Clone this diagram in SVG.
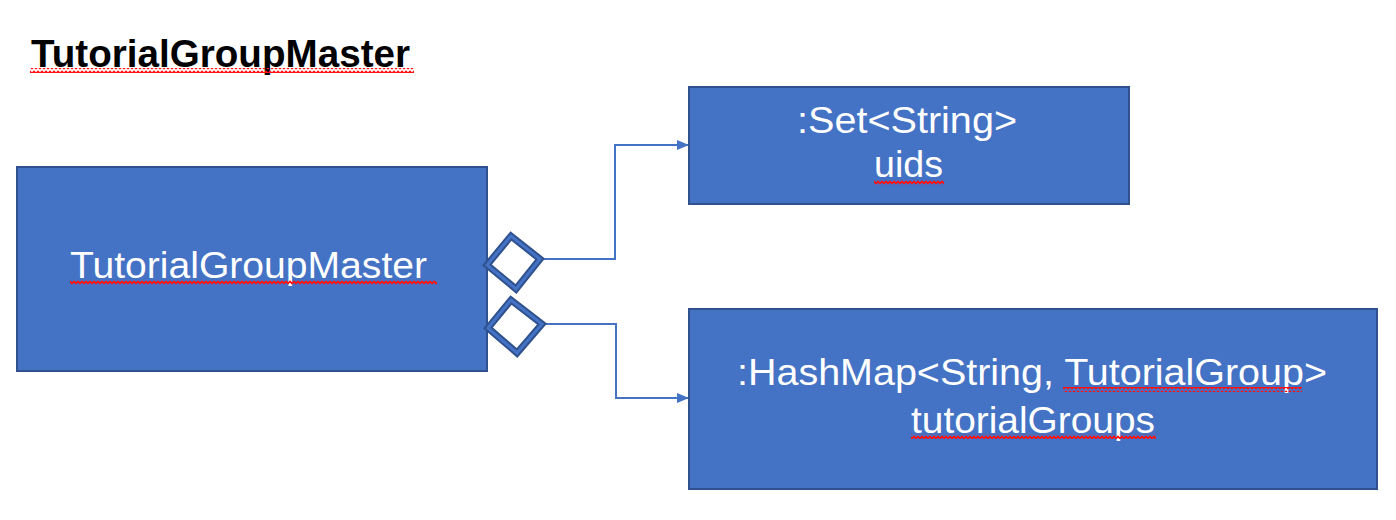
<svg xmlns="http://www.w3.org/2000/svg" width="1396" height="520" viewBox="0 0 1396 520">
  <defs>
    <style>
      .box { fill: #4472C4; stroke: #2F528F; stroke-width: 2; }
      .lbl { font-family: "Liberation Sans", Arial, sans-serif; font-size: 37px; fill: #FFFFFF; }
      .title { font-family: "Liberation Sans", Arial, sans-serif; font-size: 38px; font-weight: bold; fill: #000000; }
      .conn { fill: none; stroke: #4472C4; stroke-width: 2; }
      .dia-out { fill: #FFFFFF; stroke: #2F528F; stroke-width: 7; stroke-linejoin: miter; }
      .dia-in { fill: none; stroke: #4472C4; stroke-width: 3; stroke-linejoin: miter; }
    </style>
    <marker id="arrow" viewBox="0 0 12 10" refX="12" refY="5" markerWidth="12" markerHeight="10" markerUnits="userSpaceOnUse" orient="auto">
      <path d="M0,0 L12,5 L0,10 Z" fill="#4472C4"/>
    </marker>
    <pattern id="zz" x="0" y="0" width="4" height="5" patternUnits="userSpaceOnUse">
      <path d="M-1,4 L0,3.5 L2,1.5 L4,3.5 L5,4" fill="none" stroke="#FF1010" stroke-width="1.6"/>
    </pattern>
  </defs>

  <g id="title">
    <text class="title" x="31" y="67" textLength="379" lengthAdjust="spacingAndGlyphs">TutorialGroupMaster</text>
    <rect x="30" y="68" width="384" height="5" fill="url(#zz)"/>
  </g>

  <g id="connectors">
    <polyline class="conn" points="540,259 615,259 615,145 689,145" marker-end="url(#arrow)"/>
    <polyline class="conn" points="542,324 616,324 616,398 689,398" marker-end="url(#arrow)"/>
  </g>

  <g id="node-master">
    <rect class="box" x="17" y="167" width="470" height="204"/>
    <text class="lbl" x="70" y="278" textLength="357" lengthAdjust="spacingAndGlyphs">TutorialGroupMaster</text>
    <rect x="70" y="280" width="367" height="5" fill="url(#zz)"/>
  </g>

  <g id="diamond-uids">
    <polygon class="dia-out" points="487,265 511,236 540,259 516,289"/>
    <polygon class="dia-in" points="487,265 511,236 540,259 516,289"/>
  </g>
  <g id="diamond-groups">
    <polygon class="dia-out" points="488,328 511,300 542,324 517,353"/>
    <polygon class="dia-in" points="488,328 511,300 542,324 517,353"/>
  </g>

  <g id="node-uids">
    <rect class="box" x="689" y="87" width="440" height="117"/>
    <text class="lbl" x="797" y="133" textLength="220" lengthAdjust="spacingAndGlyphs">:Set&lt;String&gt;</text>
    <text class="lbl" x="874" y="177" textLength="69" lengthAdjust="spacingAndGlyphs">uids</text>
    <rect x="874" y="180" width="70" height="5" fill="url(#zz)"/>
  </g>

  <g id="node-groups">
    <rect class="box" x="689" y="309" width="688" height="180"/>
    <text class="lbl" x="737" y="385" textLength="590" lengthAdjust="spacingAndGlyphs">:HashMap&lt;String, TutorialGroup&gt;</text>
    <rect x="1063" y="387" width="239" height="5" fill="url(#zz)"/>
    <text class="lbl" x="911" y="433" textLength="244" lengthAdjust="spacingAndGlyphs">tutorialGroups</text>
    <rect x="911" y="434" width="245" height="5" fill="url(#zz)"/>
  </g>
</svg>
